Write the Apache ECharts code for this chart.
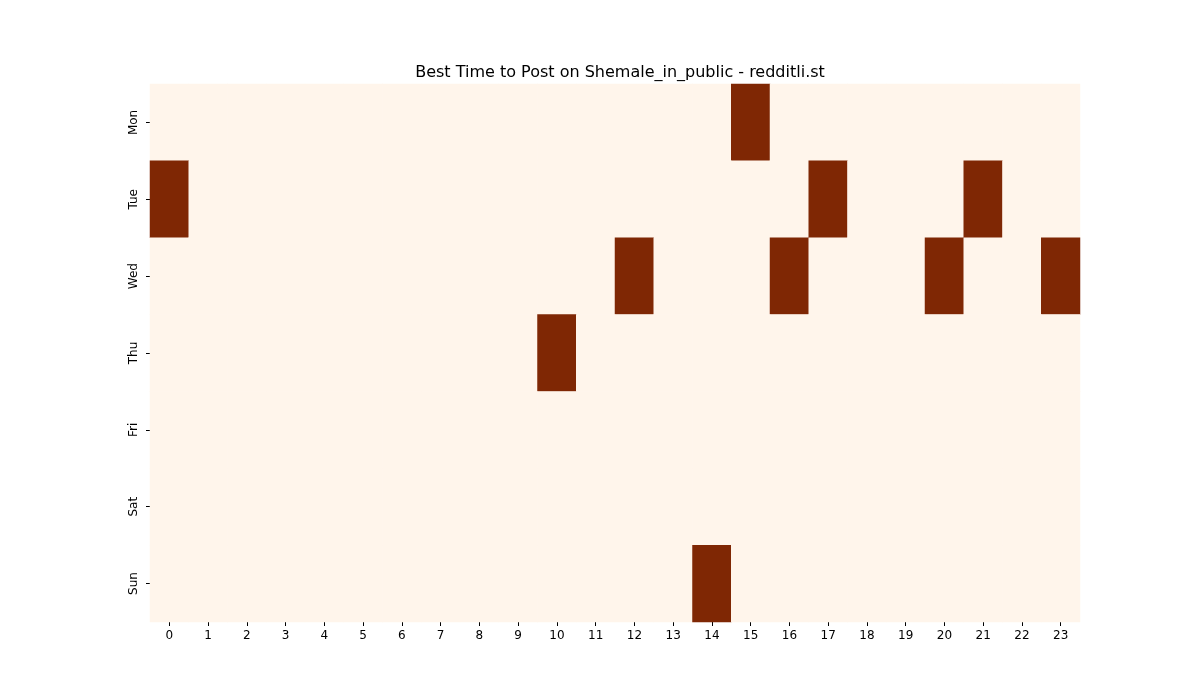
<!DOCTYPE html>
<html><head><meta charset="utf-8">
<script src="https://cdn.jsdelivr.net/npm/echarts@6/dist/echarts.min.js"></script>
<style>html,body{margin:0;padding:0;background:#fff}#c{width:1200px;height:700px}</style>
</head><body><div id="c"></div>
<script>
const hours = ['0','1','2','3','4','5','6','7','8','9','10','11','12','13','14','15','16','17','18','19','20','21','22','23'];
const days = ['Mon','Tue','Wed','Thu','Fri','Sat','Sun'];
// active cells: [hourIndex, dayIndex]
const activeCells = [[15,0],[0,1],[17,1],[21,1],[12,2],[16,2],[20,2],[23,2],[10,3],[14,6]];
const data = [];
for (let d = 0; d < days.length; d++) for (let h = 0; h < hours.length; h++) {
  const on = activeCells.some(c => c[0] === h && c[1] === d);
  data.push([h, d, on ? 1 : 0]);
}
const chart = echarts.init(document.getElementById('c'));
chart.setOption({
  animation: false,
  title: {text: 'Best Time to Post on Shemale_in_public - redditli.st', left: 615, top: 60, textAlign: 'center',
    textStyle: {fontFamily: 'DejaVu Sans', fontSize: 16, fontWeight: 'normal', color: '#000'}},
  grid: {left: 150, right: 120, top: 84, bottom: 78},
  xAxis: {type: 'category', data: hours, axisLine: {show: false},
    axisTick: {show: true, alignWithLabel: true, lineStyle: {color: '#000'}, length: 4},
    axisLabel: {color: '#000', fontFamily: 'DejaVu Sans', fontSize: 12, margin: 8}, splitArea: {show: false}},
  yAxis: {type: 'category', data: days, inverse: true, axisLine: {show: false},
    axisTick: {show: true, alignWithLabel: true, lineStyle: {color: '#000'}, length: 4},
    axisLabel: {color: '#000', fontFamily: 'DejaVu Sans', fontSize: 12, rotate: 90, margin: 10}},
  visualMap: {show: false, type: 'piecewise', dimension: 2,
    pieces: [{value: 0, color: '#fff5eb'}, {value: 1, color: '#7f2704'}]},
  series: [{type: 'heatmap', data: data, itemStyle: {borderWidth: 0}}],
  graphic: [{type: 'text', left: 550, top: 337, style: {text: 'redditli.st', fontSize: 26,
    fontFamily: 'DejaVu Sans', fill: 'rgba(128,128,128,0.5)'}}]
});
</script></body></html>
